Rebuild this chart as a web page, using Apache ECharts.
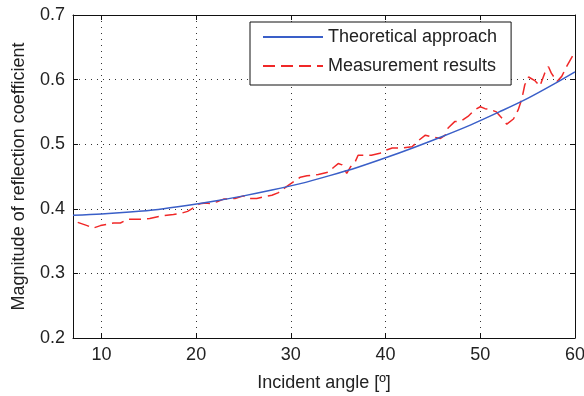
<!DOCTYPE html>
<html>
<head>
<meta charset="utf-8">
<script src="https://cdn.jsdelivr.net/npm/echarts@6/dist/echarts.min.js"></script>
<style>
html,body{margin:0;padding:0;background:#fff;}
#chart{width:584px;height:396px;}
</style>
</head>
<body>
<div id="chart"></div>
<script>
// Theoretical approach (angle in degrees, magnitude)
var theoAngles = [7, 10, 13, 16, 19, 22, 25, 28, 31, 34, 37, 40, 43, 46, 49, 52, 55, 58, 60];
var theoValues = [0.390, 0.392, 0.395, 0.399, 0.405, 0.412, 0.420, 0.429, 0.439, 0.451, 0.464, 0.479, 0.495, 0.512, 0.530, 0.550, 0.571, 0.595, 0.612];

// Measurement results
var measAngles = [7.5, 8.5, 9.1, 9.9, 11.3, 12.0, 12.8, 14.3, 15.1, 15.7, 16.4, 17.6, 18.4, 19.1, 19.9, 20.4, 21.0, 21.6, 22.2, 22.9, 24.1, 25.0, 25.5, 26.4, 27.3, 28.0, 28.7, 29.5, 30.3, 31.0, 31.7, 32.9, 34.0, 34.5, 35.0, 35.4, 35.9, 36.3, 36.8, 37.1, 38.5, 39.4, 40.1, 40.7, 41.7, 42.8, 43.5, 44.2, 44.9, 45.8, 46.3, 46.6, 47.3, 48.0, 48.7, 49.4, 50.0, 50.5, 51.0, 51.7, 52.3, 52.8, 53.5, 54.0, 54.4, 54.7, 55.1, 55.8, 56.3, 56.8, 57.2, 57.5, 58.1, 58.6, 59.1, 59.8];
var measValues = [0.379, 0.374, 0.370, 0.374, 0.378, 0.378, 0.384, 0.384, 0.385, 0.387, 0.389, 0.391, 0.393, 0.396, 0.403, 0.408, 0.409, 0.408, 0.411, 0.415, 0.416, 0.420, 0.416, 0.416, 0.419, 0.421, 0.425, 0.434, 0.442, 0.449, 0.451, 0.453, 0.457, 0.464, 0.470, 0.468, 0.455, 0.465, 0.473, 0.483, 0.483, 0.486, 0.491, 0.494, 0.494, 0.496, 0.506, 0.514, 0.511, 0.509, 0.514, 0.525, 0.535, 0.536, 0.543, 0.553, 0.558, 0.555, 0.554, 0.550, 0.540, 0.531, 0.539, 0.553, 0.571, 0.592, 0.604, 0.598, 0.590, 0.610, 0.620, 0.610, 0.597, 0.605, 0.620, 0.638];

var xTicks = [10, 20, 30, 40, 50, 60];
var yTicks = [0.2, 0.3, 0.4, 0.5, 0.6, 0.7];

var xName = 'Incident angle [º]';
var yName = 'Magnitude of reflection coefficient';
var seriesNames = ['Theoretical approach', 'Measurement results'];

function pairs(a, b) { return a.map(function (v, i) { return [v, b[i]]; }); }

var FONT = 'Liberation Sans, Arial, sans-serif';
var TXT = '#222';
var BLUE = '#3a5fc8';
var RED = '#f02828';
var gridLine = { show: true, lineStyle: { color: '#333', width: 1, type: [1, 5] } };

var chart = echarts.init(document.getElementById('chart'), null, { renderer: 'canvas' });
chart.setOption({
  animation: false,
  backgroundColor: '#fff',
  textStyle: { fontFamily: FONT },
  grid: { left: 73, right: 9, top: 15, bottom: 58, outerBoundsMode: 'none', containLabel: false },
  legend: {
    show: true,
    orient: 'vertical',
    left: 250, top: 22,
    padding: [6, 14, 10, 12],
    itemGap: 11,
    itemWidth: 60, itemHeight: 18,
    backgroundColor: '#fff',
    borderColor: '#111', borderWidth: 1, borderRadius: 0,
    itemStyle: { color: 'transparent', borderWidth: 0, opacity: 0 },
    textStyle: { fontFamily: FONT, fontSize: 18, color: TXT, lineHeight: 18 },
    data: seriesNames
  },
  xAxis: [{
    type: 'value', min: 7, max: 60, splitNumber: 5,
    name: xName, nameLocation: 'middle', nameGap: 36,
    nameTextStyle: { fontFamily: FONT, fontSize: 18, color: TXT },
    axisLine: { show: true, onZero: false, lineStyle: { color: '#111', width: 1 } },
    axisTick: { show: true, inside: true, length: 5, lineStyle: { color: '#111' } },
    axisLabel: { show: true, fontFamily: FONT, fontSize: 18, color: TXT, margin: 8, showMinLabel: false,
      formatter: function (v) { return xTicks.indexOf(v) >= 0 ? String(v) : ''; } },
    splitLine: gridLine
  }, {
    type: 'value', min: 7, max: 60, splitNumber: 5, position: 'top',
    axisLine: { show: true, onZero: false, lineStyle: { color: '#111', width: 1 } },
    axisTick: { show: true, inside: true, length: 5, lineStyle: { color: '#111' } },
    axisLabel: { show: false }, splitLine: { show: false }
  }],
  yAxis: [{
    type: 'value', min: yTicks[0], max: yTicks[yTicks.length - 1], interval: 0.1,
    name: yName, nameLocation: 'middle', nameGap: 45,
    nameTextStyle: { fontFamily: FONT, fontSize: 18, color: TXT },
    axisLine: { show: true, onZero: false, lineStyle: { color: '#111', width: 1 } },
    axisTick: { show: true, inside: true, length: 5, lineStyle: { color: '#111' } },
    axisLabel: { fontFamily: FONT, fontSize: 18, color: TXT, margin: 8, formatter: function (v) { return v.toFixed(1); } },
    splitLine: gridLine
  }, {
    type: 'value', min: yTicks[0], max: yTicks[yTicks.length - 1], interval: 0.1, position: 'right',
    axisLine: { show: true, onZero: false, lineStyle: { color: '#111', width: 1 } },
    axisTick: { show: true, inside: true, length: 5, lineStyle: { color: '#111' } },
    axisLabel: { show: false }, splitLine: { show: false }
  }],
  series: [{
    name: seriesNames[0], type: 'line', xAxisIndex: 0, yAxisIndex: 0,
    data: pairs(theoAngles, theoValues), showSymbol: false, symbol: 'none', smooth: 0.3,
    lineStyle: { color: BLUE, width: 1.5 }, itemStyle: { color: BLUE }, z: 3
  }, {
    name: seriesNames[1], type: 'line', xAxisIndex: 0, yAxisIndex: 0,
    data: pairs(measAngles, measValues), showSymbol: false, symbol: 'none',
    lineStyle: { color: RED, width: 1.5, type: [12, 6] }, itemStyle: { color: RED }, z: 2
  }]
});
</script>
</body>
</html>
